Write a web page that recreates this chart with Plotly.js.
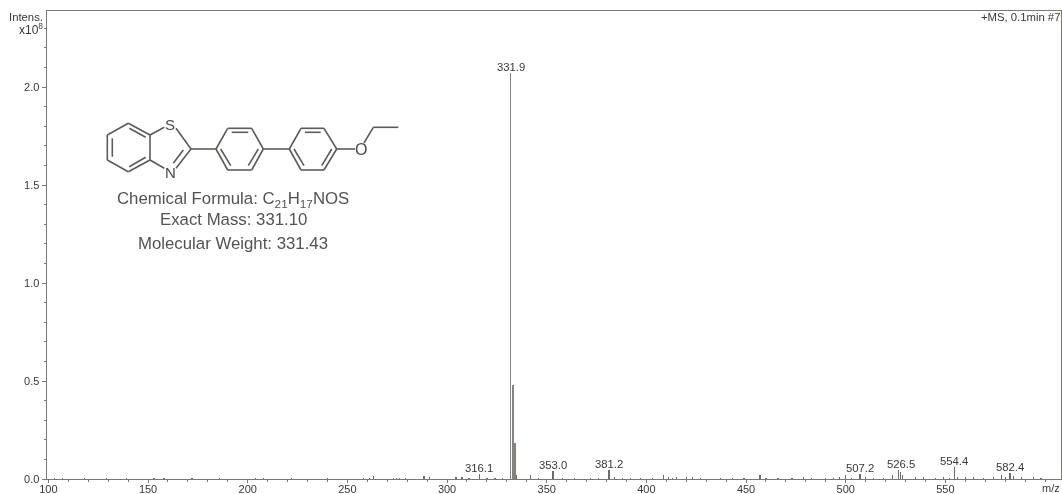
<!DOCTYPE html>
<html>
<head>
<meta charset="utf-8">
<script src="https://cdn.plot.ly/plotly-3.0.1.min.js"></script>
<style>
html,body{margin:0;padding:0;background:#fff;overflow:hidden}
#chart{width:1062px;height:494px;filter:blur(0.35px)}
</style>
</head>
<body>
<div id="chart"></div>
<script>
// Spectrum (intensity in units of 1e8)
const mainMz = [331.9, 332.9, 333.9];
const mainIntensity = [2.07, 0.48, 0.185];
const minorMz = [103,107,118,129,139,153,158,172,186,204,208,222,240,258,261,263.2,273,274.5,276,279,288,288.8,291,304.5,307.5,311,316.1,320,324,328,334.9,341.7,346,353.1,358,364,372,376,381.2,384,388,392,397,403,408.6,411,413,415,420,423,427,437,443,449,457,460,466,473,479,483,490,494,497,499.8,503,507.2,510,514,519,523.5,526.5,527.5,528.5,535,539,545,549,552,554.4,556,560,564,569,574,578,580,582.4,584,588,594,598];
const minorIntensity = [.003,.004,.003,.003,.004,.006,.003,.004,.003,.003,.005,.003,.003,.003,.004,.014,.005,.005,.005,.003,.016,.014,.012,.012,.008,.004,.025,.006,.004,.004,.02,.02,.006,.04,.005,.005,.006,.005,.045,.008,.006,.005,.005,.005,.02,.008,.007,.008,.012,.008,.005,.006,.005,.005,.02,.006,.005,.005,.012,.005,.006,.006,.012,.02,.006,.025,.01,.005,.006,.018,.045,.035,.02,.008,.008,.007,.012,.006,.06,.012,.008,.008,.006,.008,.022,.012,.03,.015,.008,.008,.006];

const labelMz = [331.9, 316.1, 353.0, 381.2, 507.2, 527.5, 554.4, 582.4];
const labelIntensity = [2.07, 0.025, 0.04, 0.045, 0.025, 0.045, 0.06, 0.03];
const labelText = ['331.9','316.1','353.0','381.2','507.2','526.5','554.4','582.4'];

const xTickVals = [100,150,200,250,300,350,400,450,500,550];
const xTickText = ['100','150','200','250','300','350','400','450','500','550'];
const yTickVals = [0,0.5,1.0,1.5,2.0];
const yTickText = ['0.0','0.5','1.0','1.5','2.0'];

const infoLines = ['Chemical Formula: C<sub>21</sub>H<sub>17</sub>NOS','Exact Mass: 331.10','Molecular Weight: 331.43'];

// Structure drawing, as page pixels
const W = 1062, H = 494;
const bonds = [
 [128.3,123.3,150,135],[150,135,150,160],[150,160,128.3,171.7],[128.3,171.7,107.3,160],[107.3,160,107.3,135],[107.3,135,128.3,123.3],
 [112.3,138.3,112.3,156.7],[129.3,128.3,145.7,137.3],[129.3,166.7,145.7,157.3],
 [150,135,164.3,127.3],[176,128.3,191,149],[191,149,176,168.3],[183.3,150,173.3,163.3],[150,160,164.3,168.3],
 [191,149,216,149],
 [216,149,227.7,128.3],[227.7,128.3,251.7,128.3],[251.7,128.3,263.3,149],[263.3,149,251.7,170],[251.7,170,227.7,170],[227.7,170,216,149],
 [231.7,132.3,248.3,132.3],[258.3,149,248.3,165.7],[220.7,149,230.7,165.7],
 [263.3,149,289.3,149],
 [289.3,149,301,128.3],[301,128.3,324,128.3],[324,128.3,336.7,149],[336.7,149,324,170],[324,170,301,170],[301,170,289.3,149],
 [305,132.3,320.7,132.3],[331.7,149,321.7,165.7],[294,149,304,165.7],
 [336.7,149,355,149],[364,143,373.3,127.3],[373.3,127.3,398.3,127.3]
];

const margin = {l:47, r:1, t:11, b:15};
const pw = W - margin.l - margin.r, ph = H - margin.t - margin.b;
const px = x => (x - margin.l) / pw;
const py = y => 1 - (y - margin.t) / ph;

const ink = '#7d7874', text = '#3a3836', font = 'Liberation Sans, Arial, sans-serif';

const traces = [
 {type:'bar', x:minorMz, y:minorIntensity, width:0.6, marker:{color:'#6f6a66', line:{width:0}}, hoverinfo:'skip'},
 {type:'bar', x:mainMz, y:mainIntensity, width:[0.7,1,1], marker:{color:'#87827e', line:{width:0}}, hoverinfo:'skip'}
];

const annotations = labelMz.map((m,i)=>({
 x:m, y:labelIntensity[i], xref:'x', yref:'y', text:labelText[i], showarrow:false,
 xanchor:'center', yanchor:'bottom', yshift:-2, font:{family:font,size:11.3,color:text}
}));
annotations.push(
 {xref:'paper',yref:'paper',x:px(1060.5),y:py(17),text:'+MS, 0.1min #7',showarrow:false,xanchor:'right',yanchor:'middle',borderpad:0,font:{family:font,size:11.3,color:text}},
 {xref:'paper',yref:'paper',x:px(44),y:py(17),text:'Intens.',showarrow:false,xanchor:'right',yanchor:'middle',borderpad:0,font:{family:font,size:11.3,color:text}},
 {xref:'paper',yref:'paper',x:px(44),y:py(29),text:'x10<sup>8</sup>',showarrow:false,xanchor:'right',yanchor:'middle',borderpad:0,font:{family:font,size:12,color:text}},
 {xref:'paper',yref:'paper',x:px(1051),y:py(488),text:'m/z',showarrow:false,xanchor:'center',yanchor:'middle',borderpad:0,font:{family:font,size:11,color:text}},
 {xref:'paper',yref:'paper',x:px(170),y:py(124.5),text:'S',showarrow:false,xanchor:'center',yanchor:'middle',borderpad:0,font:{family:font,size:15,color:'#4b4846'}},
 {xref:'paper',yref:'paper',x:px(170.7),y:py(172.7),text:'N',showarrow:false,xanchor:'center',yanchor:'middle',borderpad:0,font:{family:font,size:15,color:'#4b4846'}},
 {xref:'paper',yref:'paper',x:px(361),y:py(149),text:'O',showarrow:false,xanchor:'center',yanchor:'middle',borderpad:0,font:{family:font,size:16,color:'#4b4846'}},
 {xref:'paper',yref:'paper',x:px(233),y:py(199),text:infoLines[0],showarrow:false,xanchor:'center',yanchor:'middle',borderpad:0,font:{family:font,size:16.8,color:'#55524f'}},
 {xref:'paper',yref:'paper',x:px(233),y:py(220),text:infoLines[1],showarrow:false,xanchor:'center',yanchor:'middle',borderpad:0,font:{family:font,size:16.8,color:'#55524f'}},
 {xref:'paper',yref:'paper',x:px(233),y:py(243),text:infoLines[2],showarrow:false,xanchor:'center',yanchor:'middle',borderpad:0,font:{family:font,size:16.8,color:'#55524f'}}
);

const shapes = bonds.map(b=>({
 type:'line', xref:'paper', yref:'paper', x0:px(b[0]), y0:py(b[1]), x1:px(b[2]), y1:py(b[3]),
 line:{color:'#5f5a56', width:1.6}
}));

const layout = {
 width:W, height:H, margin:{...margin, pad:0}, paper_bgcolor:'#fff', plot_bgcolor:'#fff',
 showlegend:false, bargap:0, barmode:'overlay', font:{family:font,size:11,color:text},
 xaxis:{range:[99.3,608], tickmode:'array', tickvals:xTickVals, ticktext:xTickText, ticks:'outside', ticklen:3, tickwidth:1, tickcolor:ink,
  ticklabelstandoff:-4,
  minor:{tick0:100, dtick:10, ticks:'outside', ticklen:2, tickwidth:1, tickcolor:ink},
  showgrid:false, zeroline:false, showline:true, linecolor:ink, linewidth:1.4, mirror:true,
  tickfont:{family:font,size:11,color:text}},
 yaxis:{range:[0,2.388], tickmode:'array', tickvals:yTickVals, ticktext:yTickText, ticks:'outside', ticklen:4, tickwidth:1, tickcolor:ink,
  minor:{tick0:0, dtick:0.1, ticks:'outside', ticklen:2, tickwidth:1, tickcolor:ink},
  showgrid:false, zeroline:false, showline:true, linecolor:ink, linewidth:1.4, mirror:true,
  tickfont:{family:font,size:11,color:text}},
 annotations, shapes
};

Plotly.newPlot('chart', traces, layout, {displayModeBar:false, staticPlot:true});
</script>
</body>
</html>
